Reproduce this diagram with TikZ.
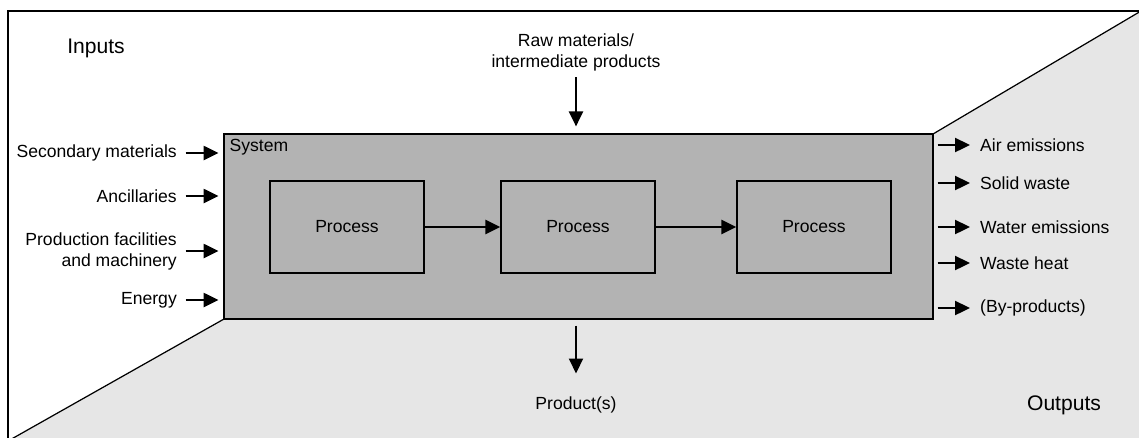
\documentclass[tikz,border=0pt]{standalone}
\usepackage{fontspec}
\setmainfont{Liberation Sans}
\usetikzlibrary{arrows.meta}
\definecolor{sysgrey}{HTML}{B3B3B3}
\definecolor{outgrey}{HTML}{E6E6E6}
\tikzset{
  flow/.style={-{Triangle[length=8.5pt,width=8pt]},line width=1.2pt},
  lbl/.style={font=\fontsize{10}{12}\selectfont},
  big/.style={font=\fontsize{12}{14}\selectfont},
  procbox/.style={draw,line width=0.8pt,minimum width=3.08cm,minimum height=1.84cm,lbl}
}

\begin{document}
\begin{tikzpicture}[x=0.02cm,y=-0.02cm]
\clip (0,0) rectangle (1139,437);
\fill[outgrey] (8,441) -- (224,319) -- (933,319) -- (933,134) -- (1141,11) -- (1141,441) -- cycle;
\draw[line width=0.7pt] (8,11) rectangle (1141,441);
\draw[line width=0.7pt] (8,441) -- (224,319);
\draw[line width=0.7pt] (933,134) -- (1141,11);
\node[draw,line width=0.7pt,fill=sysgrey,minimum width=14.18cm,minimum height=3.7cm,inner sep=0pt] (sys) at (578.5,226.5) {};
\node[lbl,anchor=north west] (systxt) at (sys.north west) {System};

\node[big] (inputs) at (96,48) {Inputs};
\node[big] (outputs) at (1064,405) {Outputs};

\foreach \n/\x in {1/347,2/578,3/814}{
  \node[procbox] (p\n) at (\x,227) {Process};
}
\draw[flow] (p1) -- (p2);
\draw[flow] (p2) -- (p3);

\foreach \n/\y/\t in {sec/153/Secondary materials,anc/196/Ancillaries,fac/251/{Production facilities\\and machinery},ene/300/Energy}{
  \node[lbl,anchor=east,align=right] (\n) at (183,\y) {\t};
  \draw[flow,shorten <=1.5pt,shorten >=2.8pt] (\n.east) -- (\n.east -| sys.west);
}

\foreach \n/\y/\t in {air/145/Air emissions,sol/183/Solid waste,wat/227/Water emissions,heat/263/Waste heat,byp/308/(By-products)}{
  \node[lbl,anchor=west] (\n) at (974,\y) {\t};
  \draw[flow,shorten <=2.3pt,shorten >=2.3pt] (sys.east |- \n.west) -- (\n.west);
}

\node[lbl,align=center,anchor=south] (raw) at (576,77) {Raw materials/\\intermediate products};
\draw[flow,shorten >=4pt] (raw.south) -- (raw.south |- sys.north);

\node[lbl,anchor=north] (prd) at (576,391) {Product(s)};
\draw[flow,shorten <=3.4pt,shorten >=10pt] (prd.north |- sys.south) -- (prd.north);
\end{tikzpicture}
\end{document}
